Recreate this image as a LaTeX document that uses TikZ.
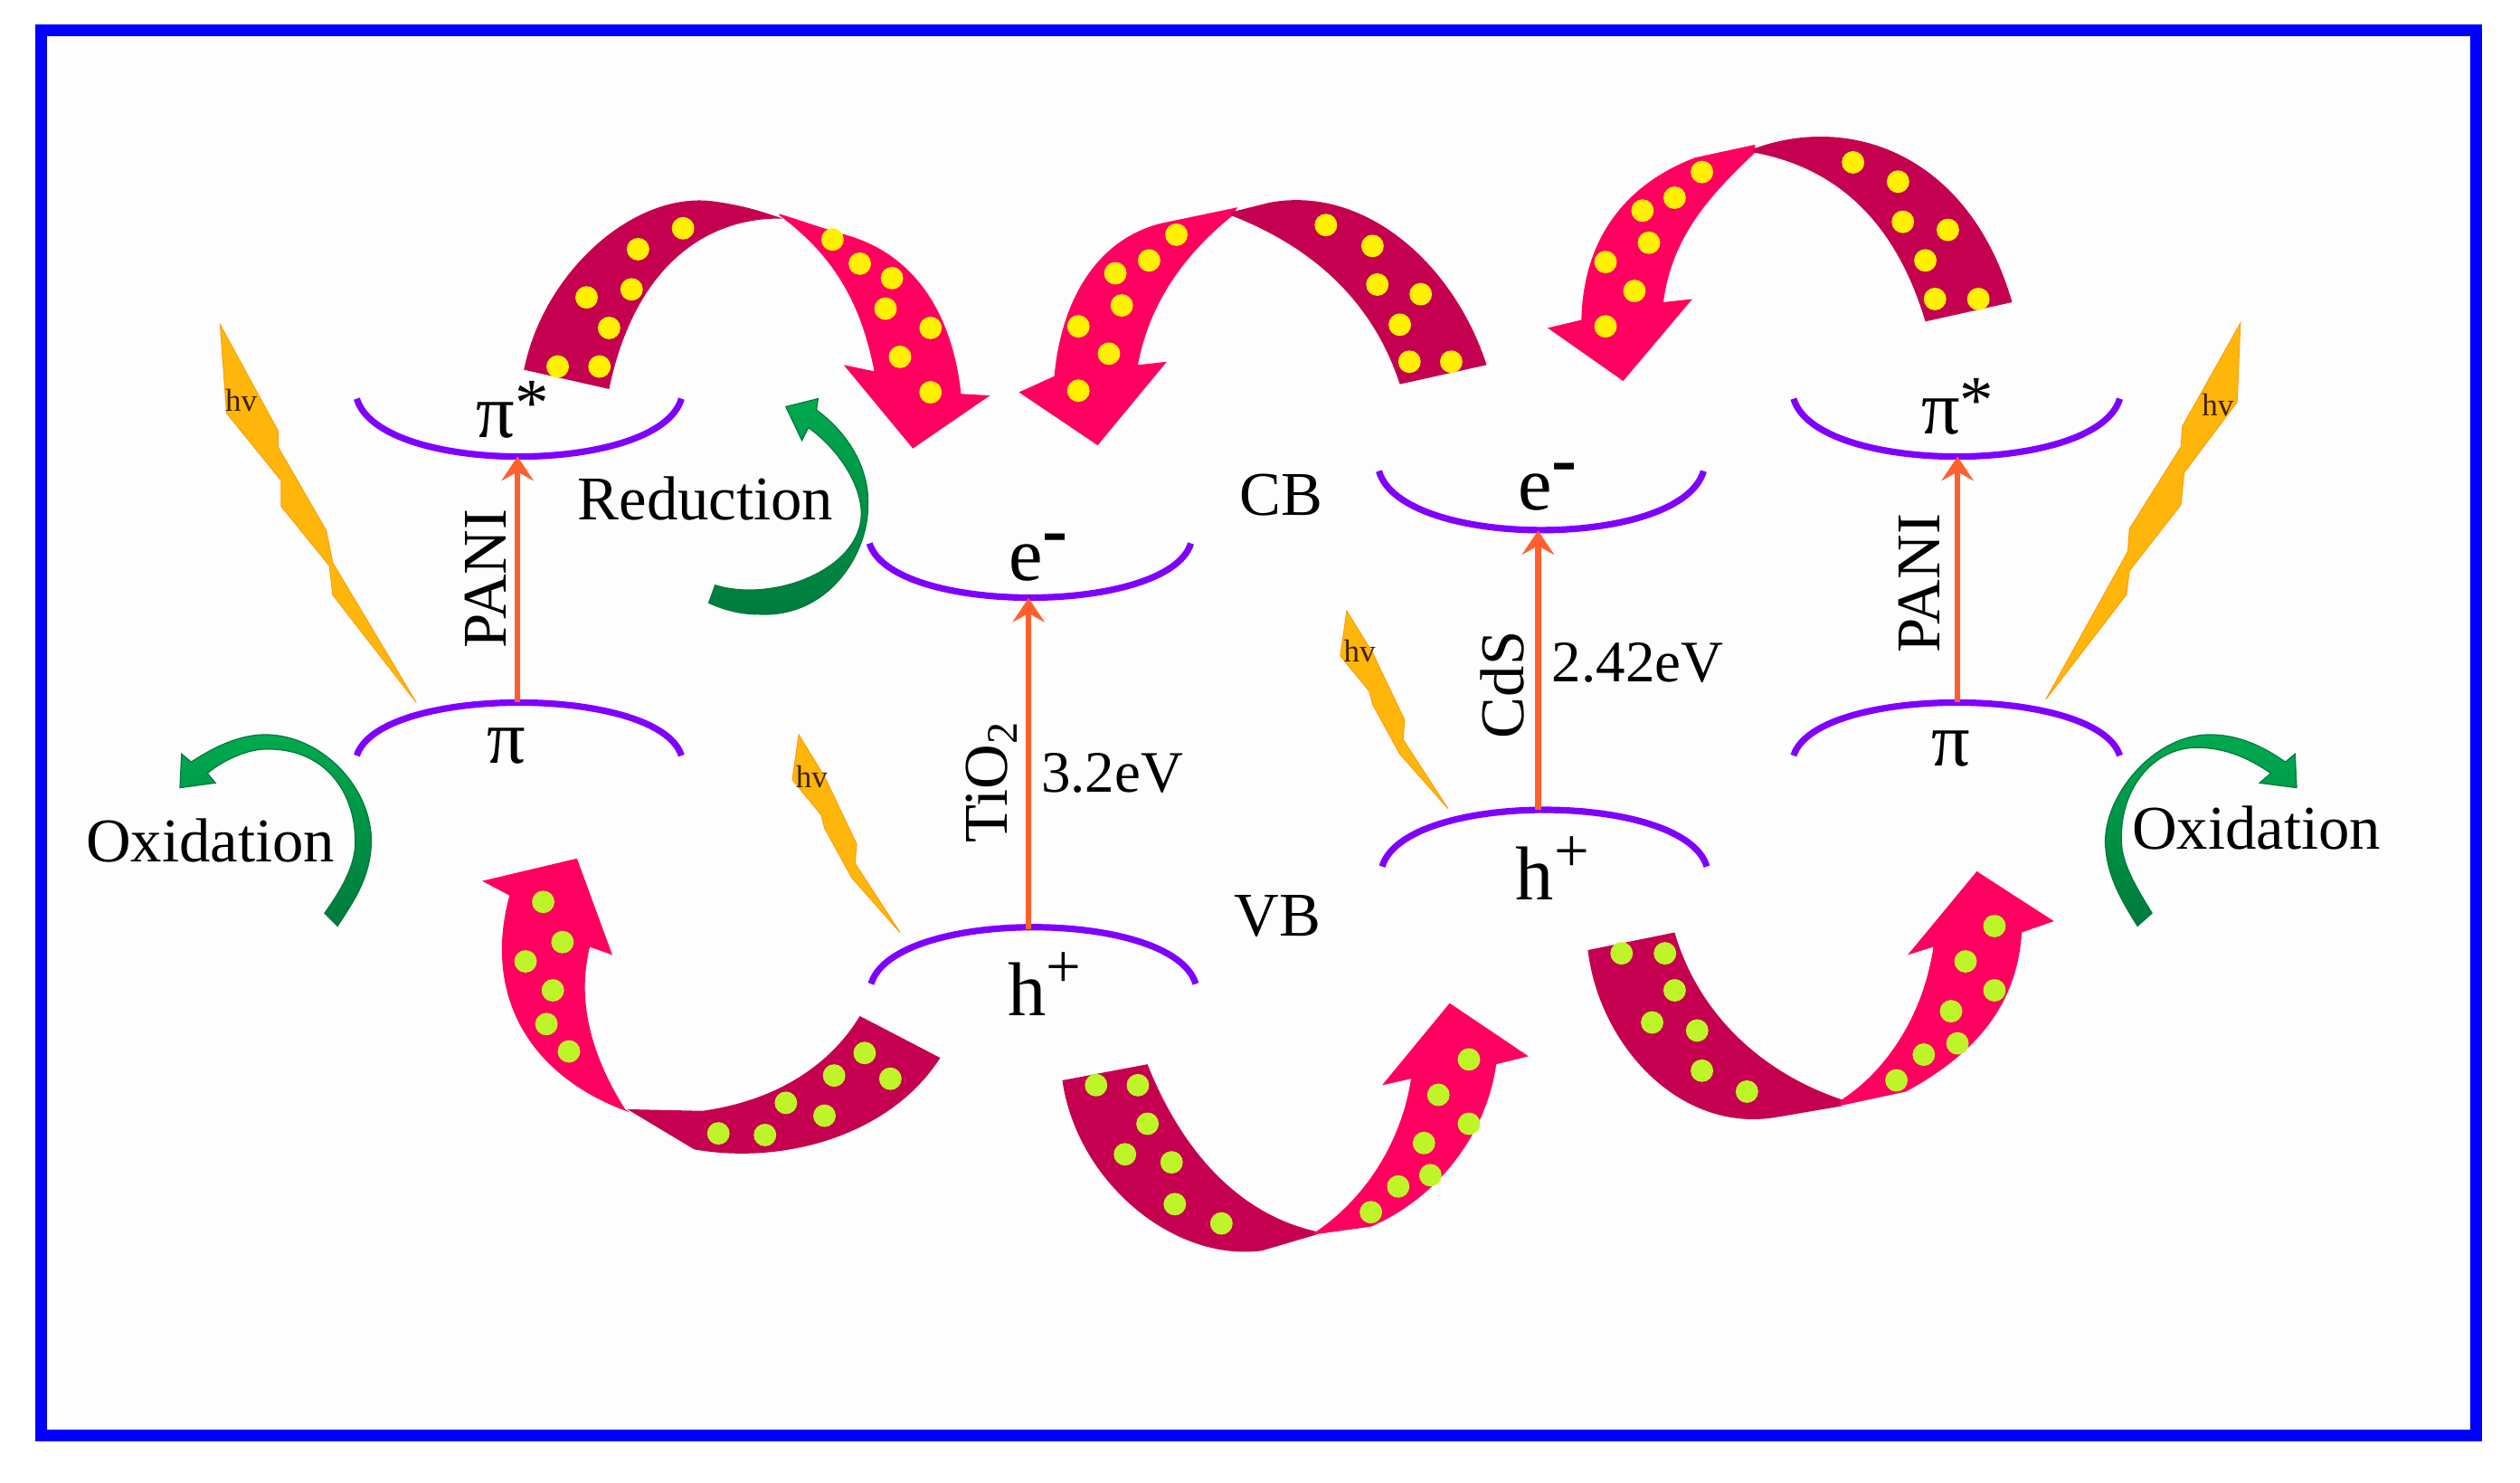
\documentclass[tikz,border=0pt]{standalone}
\usepackage{fontspec}
\setmainfont{Liberation Serif}
\usetikzlibrary{arrows.meta}
\begin{document}
\begin{tikzpicture}[x=0.01cm,y=-0.01cm,
    lbl/.style={inner sep=0pt,font=\fontsize{11}{13}\selectfont},
    gaplbl/.style={inner sep=0pt,font=\fontsize{10.4}{12}\selectfont},
    bandlbl/.style={inner sep=0pt,font=\fontsize{13.5}{16}\selectfont},
    hvlbl/.style={inner sep=0pt,text=black!75!orange,font=\fontsize{5.6}{6}\selectfont},
    levelarc/.style={draw=arcviolet,line width=1.15pt},
    gapline/.style={draw=gaporange,line width=1pt,-{Stealth[length=1.5mm,width=2mm,inset=0.55mm]}},
    bolt/.style={fill=boltamber,draw=boltamber!85!red,line width=0.15pt},
    lobedark/.style={fill=lobemaroon},
    lobebright/.style={fill=lobepink},
    turngreen/.style={top color=greenlight,bottom color=greendark,draw=greendark,line width=0.2pt}]
        % Define colors
        \definecolor{frameblue}{RGB}{0,0,255}
        \definecolor{arcviolet}{RGB}{128,0,255}
        \definecolor{gaporange}{RGB}{255,95,46}
        \definecolor{boltamber}{RGB}{255,182,10}
        \definecolor{lobemaroon}{RGB}{198,0,80}
        \definecolor{lobepink}{RGB}{255,0,96}
        \definecolor{dotyellow}{RGB}{255,240,0}
        \definecolor{dotlime}{RGB}{190,245,40}
        \definecolor{greenlight}{RGB}{0,170,78}
        \definecolor{greendark}{RGB}{0,122,60}

        \useasboundingbox (0,0) rectangle (1568,922);

        % Frame
        \draw[frameblue,line width=2.1pt,fill=black!0.7] (25.5,19) rectangle (1540.5,893);

        % Lower band arcs
        \foreach \xa/\xb/\ya/\yc in {222/424/248/296, 1116/1319/248/296, 541/741/338/383, 858/1060/293/342}
            \draw[levelarc] (\xa,\ya) .. controls (\xa+14,\yc) and (\xb-14,\yc) .. (\xb,\ya);

        % Upper band arcs
        \foreach \xa/\xb/\ya/\yc in {222/424/470/426, 1116/1319/470/426, 542/744/612/565, 860/1062/539/492}
            \draw[levelarc] (\xa,\ya) .. controls (\xa+14,\yc) and (\xb-14,\yc) .. (\xb,\ya);

        % Band edges
        \coordinate (panilow) at (322,437);
        \coordinate (panihigh) at (322,284);
        \coordinate (tiolow) at (640,578);
        \coordinate (tiohigh) at (640,372);
        \coordinate (cdslow) at (957,504);
        \coordinate (cdshigh) at (957,330);
        \coordinate (panirlow) at (1218,437);
        \coordinate (panirhigh) at (1218,284);

        % Excitation arrows
        \draw[gapline] (panilow) -- (panihigh);
        \draw[gapline] (tiolow) -- (tiohigh);
        \draw[gapline] (cdslow) -- (cdshigh);
        \draw[gapline] (panirlow) -- (panirhigh);

        % Lightning
        \fill[bolt] (137,202) -- (173,268) -- (173,278) -- (203,330) -- (207,350) -- (259,437)
            -- (207,370) -- (205,352) -- (175,315) -- (175,299) -- (141,257) -- cycle;
        \fill[bolt] (497,457) -- (513,483) -- (533,525) -- (532,537) -- (560,580)
            -- (530,546) -- (513,515) -- (511,507) -- (493,485) -- cycle;
        \fill[bolt] (838,380) -- (854,406) -- (874,448) -- (873,460) -- (901,503)
            -- (871,469) -- (854,438) -- (852,430) -- (834,408) -- cycle;
        \fill[bolt] (1394,201) -- (1392,250) -- (1359,294) -- (1357,314) -- (1325,355) -- (1323,370) -- (1273,435)
            -- (1324,343) -- (1325,329) -- (1357,278) -- (1358,265) -- (1371,242) -- cycle;
        \node[hvlbl] (hva) at (150,249) {hv};
        \node[hvlbl] (hvb) at (505,483) {hv};
        \node[hvlbl] (hvc) at (846,405) {hv};
        \node[hvlbl] (hvd) at (1380,252) {hv};

        % Top lobes
        \fill[lobedark] (326,230) .. controls (338,170) and (393,120) .. (442,125) .. controls (458,127) and (470,130) .. (487,136)
            .. controls (440,135) and (395,165) .. (379,242) -- cycle;
        \fill[lobebright] (485,133) -- (522,145) .. controls (565,155) and (592,190) .. (598,245)
            -- (616,246) -- (568,279) -- (525,227) -- (544,231)
            .. controls (536,190) and (520,160) .. (485,134) -- cycle;

        \fill[lobebright] (770,129) -- (722,139) .. controls (680,150) and (660,190) .. (656,234)
            -- (634,244) -- (683,277) -- (726,225) -- (708,227)
            .. controls (715,190) and (735,160) .. (767,134) -- cycle;
        \fill[lobedark] (766,132) -- (790,126) .. controls (850,115) and (905,165) .. (925,227)
            -- (871,239) .. controls (855,190) and (820,155) .. (766,134) -- cycle;

        \fill[lobebright] (1092,90) -- (1055,98) .. controls (1010,115) and (985,150) .. (984,199)
            -- (963,204) -- (1010,237) -- (1053,186) -- (1035,188)
            .. controls (1040,150) and (1060,125) .. (1092,95) -- cycle;
        \fill[lobedark] (1090,93) .. controls (1150,70) and (1225,95) .. (1252,188)
            -- (1198,200) .. controls (1180,140) and (1145,105) .. (1092,95) -- cycle;

        % Bottom lobes
        \fill[lobebright] (392,692) .. controls (330,670) and (300,620) .. (317,557)
            -- (300,548) -- (359,534) -- (381,594) -- (367,589)
            .. controls (358,625) and (370,660) .. (389,690) -- cycle;
        \fill[lobedark] (390,690) -- (437,691) .. controls (480,685) and (515,665) .. (535,632)
            -- (585,658) .. controls (555,705) and (490,725) .. (432,715) -- (392,691) -- cycle;

        \fill[lobedark] (661,672) .. controls (670,735) and (730,785) .. (785,778) -- (819,768)
            -- (819,766) .. controls (770,755) and (735,715) .. (714,662) -- cycle;
        \fill[lobebright] (817,768) -- (853,763) .. controls (895,745) and (925,705) .. (931,662)
            -- (951,657) -- (902,624) -- (860,675) -- (878,671)
            .. controls (872,710) and (850,745) .. (819,766) -- cycle;

        \fill[lobedark] (988,591) .. controls (995,650) and (1045,705) .. (1105,695) -- (1146,688)
            -- (1146,684) .. controls (1090,665) and (1055,625) .. (1042,580) -- cycle;
        \fill[lobebright] (1144,688) -- (1186,679) .. controls (1230,655) and (1255,625) .. (1258,580)
            -- (1278,573) -- (1230,542) -- (1187,594) -- (1203,589)
            .. controls (1197,630) and (1175,665) .. (1146,684) -- cycle;

        % Yellow dots
        \foreach \x/\y in {347/228,373/228,379/204,365/185,393/180,397/155,425/142,
                518/149,535/164,555/173,551/192,579/204,560/222,579/244,
                732/146,715/162,694/170,698/190,671/203,690/220,671/243,
                825/140,854/153,857/177,884/183,871/202,877/225,903/225,
                1059/107,1042/123,1022/131,1026/151,999/163,1017/181,999/203,
                1153/101,1181/113,1184/138,1212/143,1198/162,1204/186,1231/186}
            \fill[dotyellow] (\x,\y) circle[radius=0.7mm];

        % Lime dots
        \foreach \x/\y in {338/561,350/586,327/598,344/616,340/637,354/654,
                538/655,519/669,554/671,489/686,513/694,447/705,476/706,
                682/675,708/675,714/699,700/718,729/723,731/749,760/761,
                914/659,895/681,914/699,886/711,890/731,870/738,853/754,
                1009/593,1036/593,1042/616,1028/636,1056/641,1059/666,1087/679,
                1241/576,1223/598,1241/616,1214/629,1218/649,1197/656,1180/672}
            \fill[dotlime] (\x,\y) circle[radius=0.7mm];

        % Green arrows
        \path[turngreen] (489,253) -- (509,248) -- (508,255) .. controls (535,275) and (541,300) .. (540,315)
            .. controls (540,345) and (515,385) .. (471,382) .. controls (460,382) and (450,379) .. (441,375)
            -- (445,364) .. controls (480,375) and (535,355) .. (536,320)
            .. controls (536,300) and (520,278) .. (503,266) -- (499,274) -- cycle;
        \path[turngreen] (113,469) -- (119,474) .. controls (140,460) and (155,457) .. (165,457)
            .. controls (200,457) and (232,490) .. (231,525) .. controls (230,545) and (222,558) .. (210,576)
            -- (202,568) .. controls (215,550) and (222,535) .. (221,521)
            .. controls (220,490) and (200,465) .. (165,466) .. controls (155,466) and (140,472) .. (129,481)
            -- (134,487) -- (112,490) -- cycle;
        \path[turngreen] (1428,469) -- (1422,474) .. controls (1405,462) and (1390,457) .. (1375,457)
            .. controls (1340,457) and (1309,495) .. (1310,525) .. controls (1311,545) and (1320,560) .. (1330,576)
            -- (1339,568) .. controls (1328,550) and (1319,535) .. (1320,520)
            .. controls (1320,490) and (1340,465) .. (1367,465) .. controls (1385,465) and (1400,472) .. (1413,481)
            -- (1406,487) -- (1429,490) -- cycle;

        % Band labels
        \node[bandlbl] (pistarl) at (319,255) {π\raisebox{2pt}{\fontsize{12}{12}\selectfont *}};
        \node[bandlbl] (pil) at (315,464) {π};
        \node[bandlbl] (elec) at (646,347) {e\raisebox{4.5pt}{\bfseries -}};
        \node[bandlbl] (holeb) at (650,612) {h\raisebox{5pt}{\fontsize{11}{11}\selectfont +}};
        \node[bandlbl] (elecr) at (963,303) {e\raisebox{4.5pt}{\bfseries -}};
        \node[bandlbl] (holer) at (966,540) {h\raisebox{5pt}{\fontsize{11}{11}\selectfont +}};
        \node[bandlbl] (pistarr) at (1218,253) {π\raisebox{2pt}{\fontsize{12}{12}\selectfont *}};
        \node[bandlbl] (pir) at (1214,466) {π};

        % Text labels
        \node[lbl,rotate=90] (panil) at (302,360) {PANI};
        \node[lbl,rotate=90] (tio) at (617,486) {TiO\textsubscript{2}};
        \node[lbl,rotate=90] (cds) at (935,426) {CdS};
        \node[lbl,rotate=90] (panir) at (1194,363) {PANI};
        \node[gaplbl] (gaptio) at (692,481) {3.2eV};
        \node[gaplbl] (gapcds) at (1019,412) {2.42eV};
        \node[lbl] (cb) at (797,308) {CB};
        \node[lbl] (vb) at (795,570) {VB};
        \node[lbl] (redu) at (439,310) {Reduction};
        \node[lbl] (oxl) at (131,523) {Oxidation};
        \node[lbl] (oxr) at (1404,515) {Oxidation};
\end{tikzpicture}
\end{document}
